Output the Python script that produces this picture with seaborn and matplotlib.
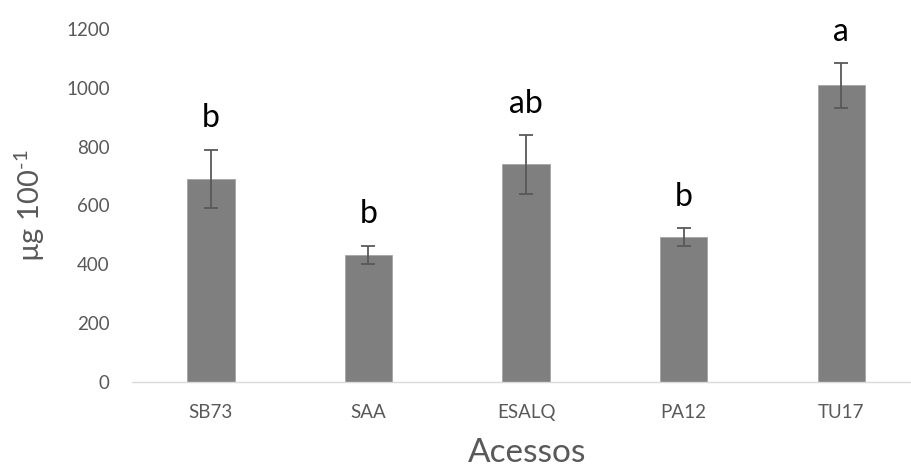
import numpy as np
import pandas as pd
import matplotlib
matplotlib.use("Agg")
import matplotlib.pyplot as plt
import seaborn as sns

acessos = ["SB73", "SAA", "ESALQ", "PA12", "TU17"]
media = [690, 432, 740, 493, 1008]
erro = [100, 32, 100, 30, 75]
letras = ["b", "b", "ab", "b", "a"]

sns.set_style("white")
plt.rcParams["font.family"] = ["Lato", "DejaVu Sans"]
plt.rcParams["mathtext.fontset"] = "custom"
plt.rcParams["mathtext.rm"] = "Lato"

df = pd.DataFrame({"Acessos": acessos, "valor": media})

fig = plt.figure(figsize=(9.11, 4.73), dpi=100)
ax = fig.add_axes([0.145, 0.1924, 0.855, 0.7463])

sns.barplot(data=df, x="Acessos", y="valor", color="#7f7f7f", saturation=1,
            width=0.30, edgecolor="#a6a6a6", linewidth=0.6, ax=ax)
ax.errorbar(np.arange(len(acessos)), media, yerr=erro, fmt="none",
            ecolor="#595959", elinewidth=1.3, capsize=5, capthick=1.3)

# letras de significancia acima das barras de erro
for i, (m, e, l) in enumerate(zip(media, erro, letras)):
    ax.text(i, m + e + 55, l, ha="center", va="bottom", fontsize=23, color="black")

ax.set_ylim(0, 1200)
ax.set_xlim(-0.5, 4.443)
ax.set_yticks(range(0, 1201, 200))
ax.tick_params(axis="both", length=0, labelsize=13.5, labelcolor="#595959")
ax.tick_params(axis="y", pad=16)
ax.tick_params(axis="x", pad=16)

for s in ["top", "right", "left"]:
    ax.spines[s].set_visible(False)
ax.spines["bottom"].set_color("#d9d9d9")
ax.spines["bottom"].set_linewidth(1)

ax.set_xlabel("Acessos", fontsize=24, color="#595959")
ax.set_ylabel(r"µg 100$^{\text{-1}}$", fontsize=21, color="#595959")
ax.xaxis.set_label_coords(0.507, -0.159)
ax.yaxis.set_label_coords(-0.109, 0.5)

fig.savefig("out.png", dpi=100)
